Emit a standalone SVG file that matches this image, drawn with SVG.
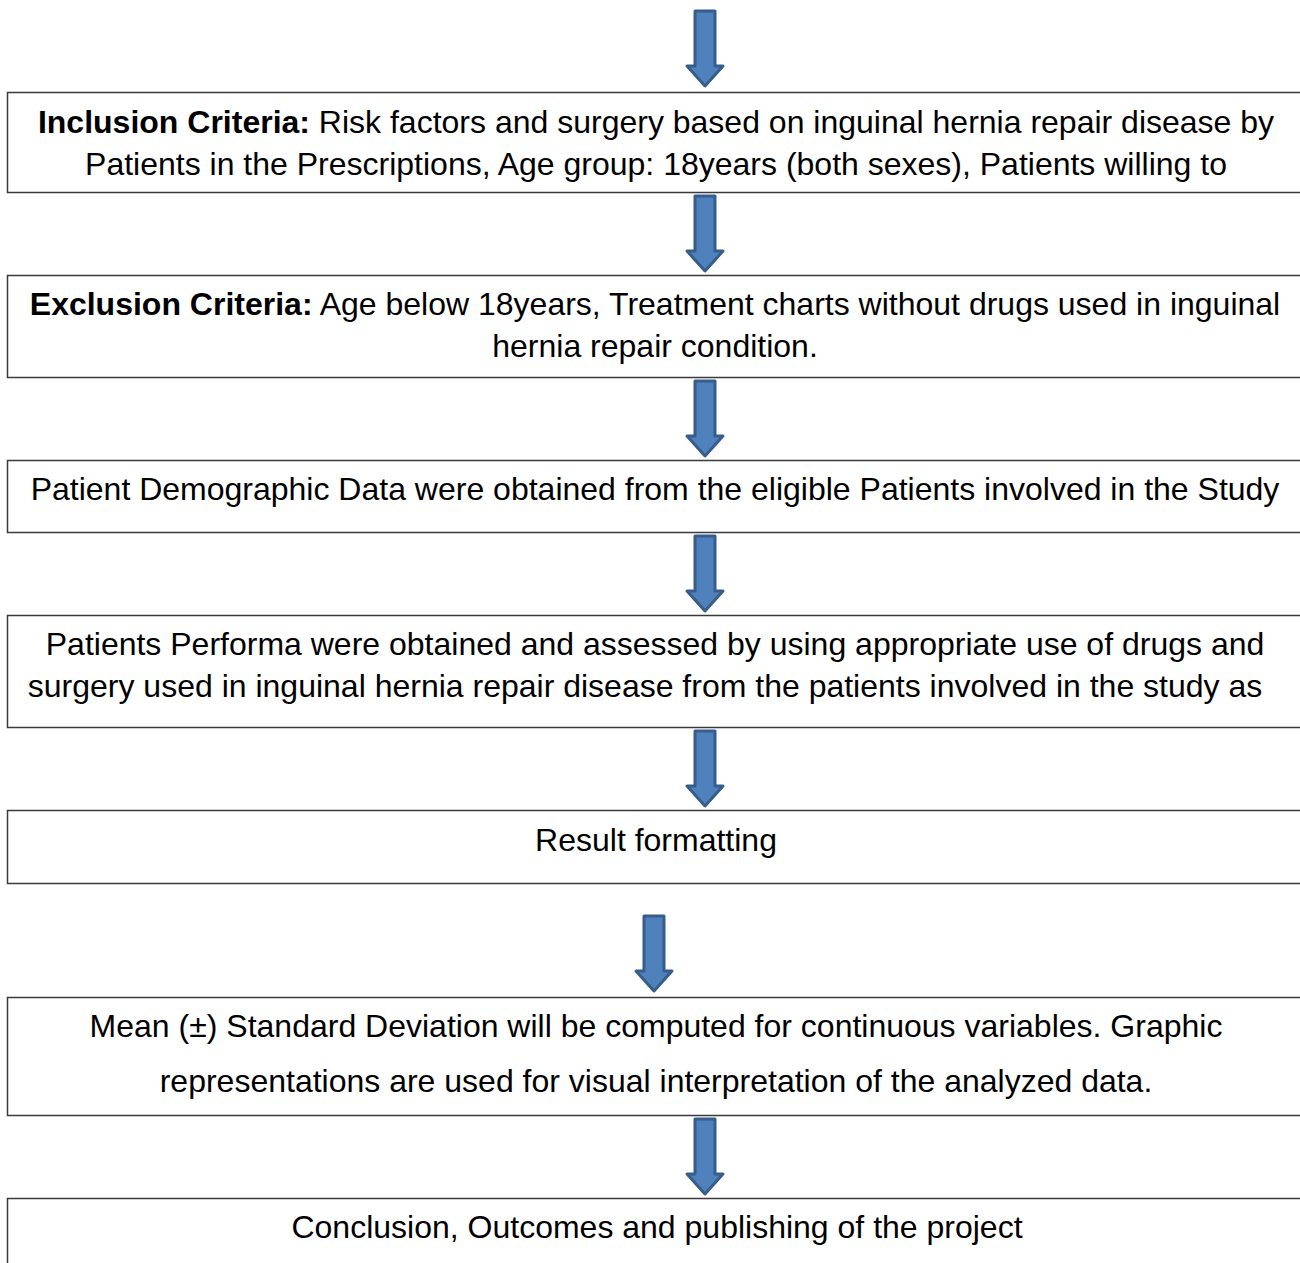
<svg xmlns="http://www.w3.org/2000/svg" width="1300" height="1263" viewBox="0 0 1300 1263">
<defs>
<style>
.box{fill:#fff;stroke:#3a3a3a;stroke-width:1.5}
.t{font-family:"Liberation Sans",Arial,sans-serif;font-size:32px;fill:#000;text-anchor:middle}
.b{font-weight:bold}
.arr{fill:#4f81bd;stroke:#385d8a;stroke-width:3;stroke-linejoin:round}
</style>
<path id="arrow" d="M-10,0 H10 V55 H18 L0,75 L-18,55 H-10 Z"/>
</defs>
<rect width="1300" height="1263" fill="#fff"/>
<g id="connectors">
<use href="#arrow" class="arr" x="705" y="11"/>
<use href="#arrow" class="arr" x="705" y="196"/>
<use href="#arrow" class="arr" x="705" y="381"/>
<use href="#arrow" class="arr" x="705" y="536"/>
<use href="#arrow" class="arr" x="705" y="731"/>
<use href="#arrow" class="arr" x="654" y="916"/>
<use href="#arrow" class="arr" x="705" y="1119"/>
</g>
<g id="inclusion">
<rect class="box" x="7.5" y="92.5" width="1310" height="100"/>
<text class="t" x="656" y="133"><tspan class="b">Inclusion Criteria:</tspan> Risk factors and surgery based on inguinal hernia repair disease by</text>
<text class="t" x="656" y="175">Patients in the Prescriptions, Age group: 18years (both sexes), Patients willing to</text>
</g>
<g id="exclusion">
<rect class="box" x="7.5" y="275.5" width="1310" height="102"/>
<text class="t" x="655" y="315"><tspan class="b">Exclusion Criteria:</tspan> Age below 18years, Treatment charts without drugs used in inguinal</text>
<text class="t" x="655" y="357">hernia repair condition.</text>
</g>
<g id="demographic">
<rect class="box" x="7.5" y="460.5" width="1310" height="72"/>
<text class="t" x="655" y="500">Patient Demographic Data were obtained from the eligible Patients involved in the Study</text>
</g>
<g id="performa">
<rect class="box" x="7.5" y="615.5" width="1310" height="112"/>
<text class="t" x="655" y="655">Patients Performa were obtained and assessed by using appropriate use of drugs and</text>
<text class="t" x="645" y="697">surgery used in inguinal hernia repair disease from the patients involved in the study as</text>
</g>
<g id="result">
<rect class="box" x="7.5" y="810.5" width="1310" height="73"/>
<text class="t" x="656" y="851">Result formatting</text>
</g>
<g id="stats">
<rect class="box" x="7.5" y="997.5" width="1310" height="118"/>
<text class="t" x="656" y="1037">Mean (±) Standard Deviation will be computed for continuous variables. Graphic</text>
<text class="t" x="656" y="1092">representations are used for visual interpretation of the analyzed data.</text>
</g>
<g id="conclusion">
<rect class="box" x="7.5" y="1198.5" width="1310" height="100"/>
<text class="t" x="657" y="1238">Conclusion, Outcomes and publishing of the project</text>
</g>
</svg>
